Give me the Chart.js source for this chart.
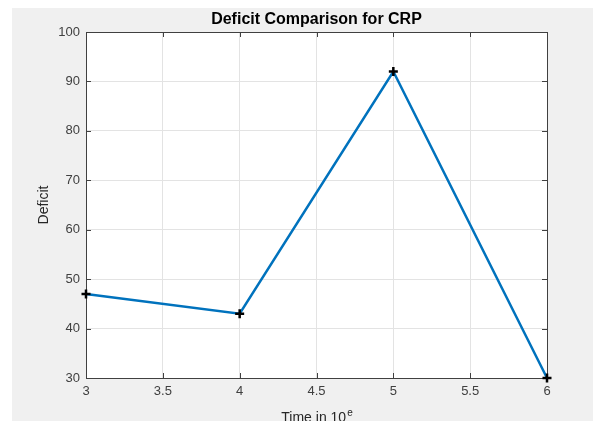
<!DOCTYPE html>
<html><head><meta charset="utf-8">
<script src="https://cdn.jsdelivr.net/npm/chart.js@4"></script>
<style>html,body{margin:0;padding:0;background:#fff;}#wrap{width:593px;height:421px;}</style>
</head><body><div id="wrap"><canvas id="c" width="593" height="421"></canvas></div>
<script>
const timeValues = [3, 4, 5, 6];
const deficitValues = [47, 43, 92, 30];
const xTicks = [3, 3.5, 4, 4.5, 5, 5.5, 6];
const yTicks = [30, 40, 50, 60, 70, 80, 90, 100];
const titleText = 'Deficit Comparison for CRP';
const yLabel = 'Deficit';
const xLabel = 'Time in 10';
const xLabelSup = 'e';

const FONT = '"Liberation Sans", Arial, Helvetica, sans-serif';
const AX = '#404040';

const deco = {
  id: 'deco',
  beforeDraw(chart) {
    const ctx = chart.ctx, a = chart.chartArea;
    ctx.save();
    ctx.fillStyle = '#ffffff';
    ctx.fillRect(0, 0, chart.width, chart.height);
    ctx.fillStyle = '#f0f0f0';
    ctx.fillRect(12, 8, chart.width - 12, chart.height - 8);
    ctx.fillStyle = '#ffffff';
    ctx.fillRect(a.left, a.top, a.right - a.left, a.bottom - a.top);
    ctx.restore();
  },
  beforeDatasetsDraw(chart) {
    const ctx = chart.ctx, a = chart.chartArea;
    const xs = chart.scales.x, ys = chart.scales.y;
    ctx.save();
    ctx.strokeStyle = AX;
    ctx.lineWidth = 1;
    ctx.beginPath();
    xTicks.forEach(v => {
      const px = Math.round(xs.getPixelForValue(v)) + 0.5;
      ctx.moveTo(px, a.bottom); ctx.lineTo(px, a.bottom - 5);
      ctx.moveTo(px, a.top); ctx.lineTo(px, a.top + 5);
    });
    yTicks.forEach(v => {
      const py = Math.round(ys.getPixelForValue(v)) + 0.5;
      ctx.moveTo(a.left, py); ctx.lineTo(a.left + 5, py);
      ctx.moveTo(a.right, py); ctx.lineTo(a.right - 5, py);
    });
    ctx.stroke();
    ctx.beginPath();
    ctx.rect(Math.round(a.left) + 0.5, Math.round(a.top) + 0.5, Math.round(a.right - a.left), Math.round(a.bottom - a.top));
    ctx.stroke();
    ctx.restore();
  },
  afterDraw(chart) {
    const ctx = chart.ctx, a = chart.chartArea;
    ctx.save();
    ctx.fillStyle = '#262626';
    ctx.font = '14px ' + FONT;
    ctx.textAlign = 'center';
    ctx.textBaseline = 'middle';
    ctx.translate(44, (a.top + a.bottom) / 2);
    ctx.rotate(-Math.PI / 2);
    ctx.fillText(yLabel, 0, 0);
    ctx.restore();
    ctx.save();
    ctx.fillStyle = '#262626';
    ctx.font = '14px ' + FONT;
    ctx.textBaseline = 'alphabetic';
    const w1 = ctx.measureText(xLabel).width;
    ctx.font = '10px ' + FONT;
    const w2 = ctx.measureText(xLabelSup).width;
    const cx = (a.left + a.right) / 2;
    const x0 = cx - (w1 + w2) / 2;
    ctx.font = '14px ' + FONT;
    ctx.textAlign = 'left';
    ctx.fillText(xLabel, x0, 422);
    ctx.font = '10px ' + FONT;
    ctx.fillText(xLabelSup, x0 + w1 + 1, 416);
    ctx.restore();
  }
};

new Chart(document.getElementById('c'), {
  type: 'line',
  data: {
    datasets: [{
      data: timeValues.map((t, i) => ({ x: t, y: deficitValues[i] })),
      borderColor: '#0072BD',
      borderWidth: 2.5,
      pointStyle: 'cross',
      pointRadius: 4.5,
      pointBorderColor: '#000',
      pointBorderWidth: 2.5,
      pointBackgroundColor: '#000',
      tension: 0,
      fill: false,
      clip: false
    }]
  },
  options: {
    responsive: false,
    animation: false,
    layout: { padding: { left: 0, right: 46, top: 0, bottom: 0 } },
    plugins: {
      legend: { display: false },
      tooltip: { enabled: false },
      title: {
        display: true,
        fullSize: false,
        text: titleText,
        color: '#000',
        font: { family: FONT, size: 16, weight: 'bold' },
        padding: { top: 10, bottom: 2.8 }
      }
    },
    scales: {
      x: {
        type: 'linear',
        min: 3, max: 6,
        afterBuildTicks(s) { s.ticks = xTicks.map(v => ({ value: v })); },
        afterFit(s) { s.height = 43; },
        grid: { color: '#e3e3e3', drawTicks: false },
        border: { display: false },
        ticks: { color: AX, padding: 6, font: { family: FONT, size: 13 }, maxRotation: 0, autoSkip: false, callback: v => String(v) }
      },
      y: {
        min: 30, max: 100,
        afterBuildTicks(s) { s.ticks = yTicks.map(v => ({ value: v })); },
        afterFit(s) { s.width = 86; },
        grid: { color: '#e3e3e3', drawTicks: false },
        border: { display: false },
        ticks: { color: AX, padding: 6, font: { family: FONT, size: 13 }, autoSkip: false, callback: v => String(v) }
      }
    }
  },
  plugins: [deco]
});
</script></body></html>
